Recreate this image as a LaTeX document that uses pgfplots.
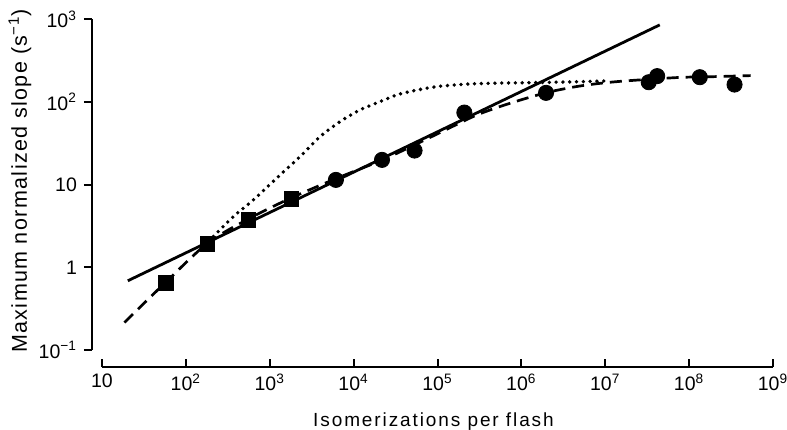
\documentclass[border=0pt]{standalone}
\usepackage{fontspec}
\setmainfont{Liberation Sans}
\usepackage{pgfplots}
\pgfplotsset{compat=1.18}

\begin{document}
\begin{tikzpicture}
\begin{axis}[
    name=main, at={(0,0)}, anchor=south west,
    scale only axis, width=335.5pt, height=165.4pt,
    xmode=log, ymode=log,
    xmin=10, xmax=1e9, ymin=0.1, ymax=1000,
    axis x line*=bottom, axis y line*=left,
    axis x line shift=8.5pt, axis y line shift=5pt,
    axis line style={line width=1pt},
    xtick={10,1e2,1e3,1e4,1e5,1e6,1e7,1e8,1e9},
    xticklabels={10,10\textsuperscript{2},10\textsuperscript{3},10\textsuperscript{4},10\textsuperscript{5},10\textsuperscript{6},10\textsuperscript{7},10\textsuperscript{8},10\textsuperscript{9}},
    ytick={0.1,1,10,100,1000},
    yticklabels={10\textsuperscript{−1},1,10,10\textsuperscript{2},10\textsuperscript{3}},
    xminorticks=false, yminorticks=false,
    major tick length=4pt,
    xtick align=inside, ytick align=outside,
    tick style={line width=1pt, black},
    tick label style={font=\fontsize{9.75}{11}\selectfont},
    xlabel={Isomerizations per flash},
    ylabel={Maximum normalized slope (s\textsuperscript{−1})},
    xlabel style={at={(axis description cs:0.494,-0.2298)}, anchor=base,
        font=\fontsize{9.5}{11}\selectfont\addfontfeatures{LetterSpace=10}},
    ylabel style={at={(axis description cs:-0.1222,0.511)}, anchor=center,
        font=\fontsize{10.75}{12}\selectfont\addfontfeatures{LetterSpace=6.5}},
]

% straight line fit
\addplot[black, line width=1.4pt] coordinates {(20.3,0.687) (4.47e7,854)};

% dotted curve
\addplot[black, line width=1.9pt, line cap=round, dash pattern=on 0pt off 3.4pt, smooth] coordinates {
    (213,2.36) (369,4.11) (640,6.55) (1330,13.1) (2310,21.9) (3990,38.1)
    (6920,57.9) (12000,80.2) (20800,101) (36000,125) (89100,151)
    (225000,164) (561000,169) (1.39e6,171) (5.5e6,176) (1.06e7,180)
};

% dashed curve
\addplot[black, line width=1.35pt, dash pattern=on 6pt off 3.5pt, smooth] coordinates {
    (18.5,0.215) (57.5,0.66) (181,1.95) (557,3.85) (1800,6.9) (6150,11.8)
    (21800,19.8) (60000,32) (1.2e5,45) (2.95e5,69.5) (7.4e5,96.6)
    (2.03e6,130) (5.06e6,156) (1.39e7,176) (7.2e7,197) (1.97e8,202) (5.4e8,208)
};

% squares
\addplot[only marks, mark=square*, mark size=3.6pt, black] coordinates {
    (57.5,0.645) (181,1.91) (557,3.76) (1800,6.68)
};

% circles
\addplot[only marks, mark=*, mark size=3.8pt, black] coordinates {
    (6150,11.4) (21800,19.9) (53300,25.8) (209000,74.3) (1.97e6,128.6)
    (3.30e7,173) (4.16e7,205) (1.34e8,199) (3.48e8,162)
};

\end{axis}
\pgfresetboundingbox
\path (main.south west) ++(-51pt,-39.5pt) rectangle ++(393.5pt,214.5pt);
\end{tikzpicture}
\end{document}
